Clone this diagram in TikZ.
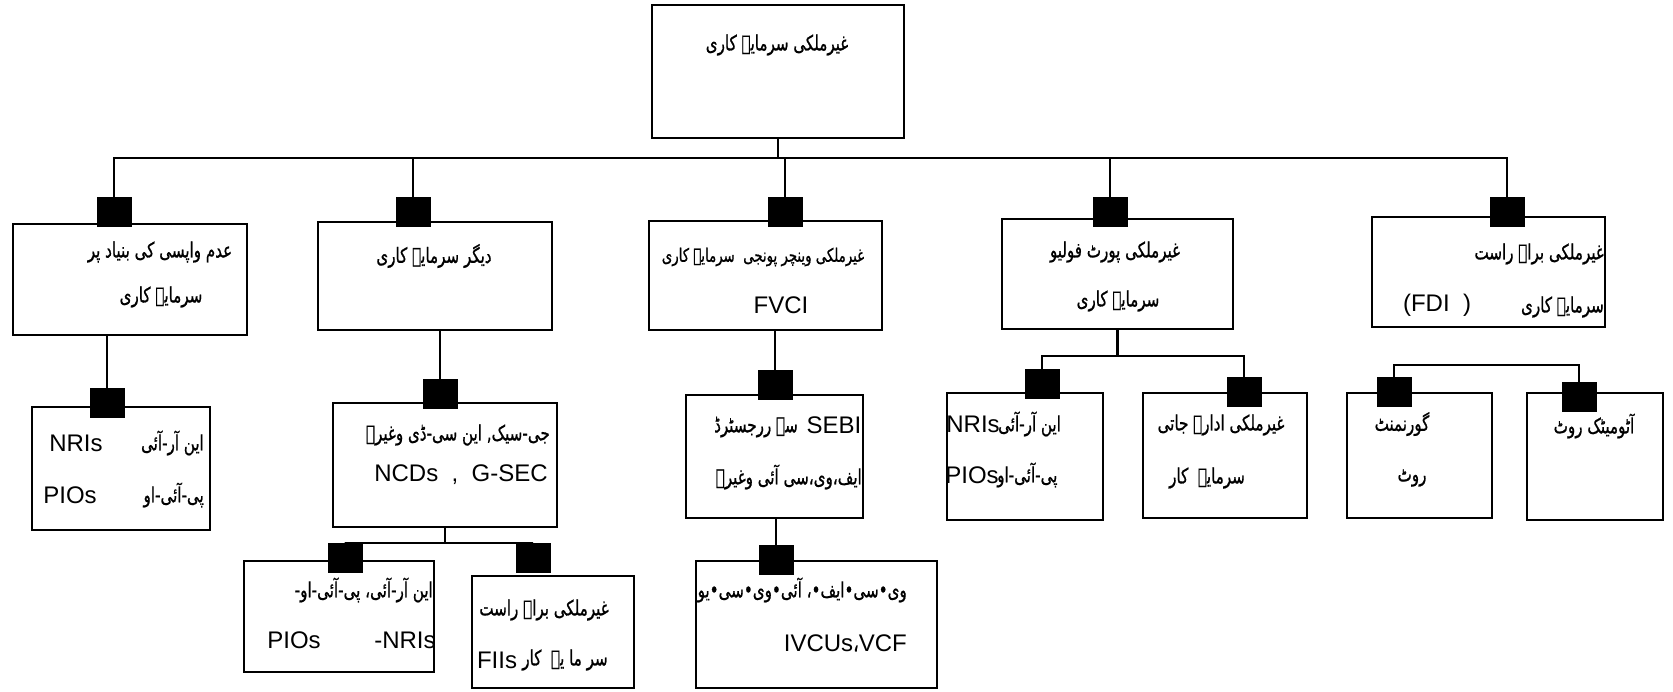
\documentclass[tikz,border=0pt]{standalone}
\usepackage{fontspec}
\setmainfont{Liberation Sans}
\newfontfamily\urdu[Script=Arabic, FakeStretch=0.72, FakeBold=0.8]{DejaVu Sans}
\TeXXeTstate=1

\tikzset{
  box/.style={draw, line width=2.8pt, inner sep=0pt},
  sq/.style={fill=black, minimum width=35, minimum height=30, inner sep=0pt},
  wire/.style={line width=2.8pt},
  ur/.style={font=\urdu\fontsize{21}{25}\selectfont, inner sep=0pt,
    execute at begin node=\beginR, execute at end node=\endR},
  lt/.style={font=\fontsize{24}{28}\selectfont, inner sep=0pt}
}

\begin{document}
\begin{tikzpicture}[x=1pt,y=-1pt]
\useasboundingbox (0,0) rectangle (1673,691);

% boxes
\node[box, minimum width=252, minimum height=133] (top) at (778,71.5) {};
\node[box, minimum width=234, minimum height=111] (A) at (130,279.5) {};
\node[box, minimum width=234, minimum height=108] (B) at (435,276) {};
\node[box, minimum width=233, minimum height=109] (C) at (765.5,275.5) {};
\node[box, minimum width=231, minimum height=110] (D) at (1117.5,274) {};
\node[box, minimum width=233, minimum height=110] (E) at (1488.5,272) {};
\node[box, minimum width=178, minimum height=123] (A2) at (121,468.5) {};
\node[box, minimum width=224, minimum height=124] (B2) at (445,465) {};
\node[box, minimum width=177, minimum height=123] (C2) at (774.5,456.5) {};
\node[box, minimum width=156, minimum height=127] (D2) at (1025,456.5) {};
\node[box, minimum width=164, minimum height=125] (D3) at (1225,455.5) {};
\node[box, minimum width=145, minimum height=125] (E2) at (1419.5,455.5) {};
\node[box, minimum width=136, minimum height=127] (E3) at (1595,456.5) {};
\node[box, minimum width=190, minimum height=111] (B3) at (339,616.5) {};
\node[box, minimum width=162, minimum height=112] (B4) at (553,632) {};
\node[box, minimum width=241, minimum height=127] (C3) at (816.5,624.5) {};

% texts
\node[ur] (t0) at (777,45) {غیرملکی سرمایہ کاری};
\node[ur] (tA1) at (160,252) {عدم واپسی کی بنیاد پر};
\node[ur] (tA2) at (161,297) {سرمایہ کاری};
\node[ur] (tB1) at (434,256) {دیگر سرمایہ کاری};
\node[ur, font=\urdu\fontsize{18.5}{22}\selectfont] (tC1) at (763,257) {غیرملکی وینچر پونجی\ \ سرمایہ کاری};
\node[lt] (tC2) at (781,305) {FVCI};
\node[ur] (tD1) at (1115,252) {غیرملکی پورٹ فولیو};
\node[ur] (tD2) at (1118,301) {سرمایہ کاری};
\node[ur, anchor=east] (tE1) at (1604,254) {غیرملکی براہ راست};
\node[ur, anchor=east] (tE2) at (1604,307) {سرمایہ کاری};
\node[lt] (tE3) at (1437,305) {(FDI\ \ )};

\node[ur, anchor=east] (tA2a) at (204,443) {این آر-آئی};
\node[lt] (nA2a) at (76,443) {NRIs};
\node[ur, anchor=east] (tA2b) at (204,495) {پی-آئی-او};
\node[lt] (nA2b) at (70,495) {PIOs};

\node[ur, anchor=east] (tB2a) at (550,435) {جی-سیک, این سی-ڈی وغیرہ};
\node[lt] (nB2b) at (461,475) {NCDs\ \ ,\ \ G-SEC};

\node[lt] (nC2a) at (834,425) {SEBI};
\node[ur] (tC2a) at (756,427) {سے ررجسٹرڈ};
\node[ur, anchor=east] (tC2b) at (862,477) {ایف،وی،سی آئی وغیرہ};

\node[lt] (nD2a) at (973,424) {NRIs};
\node[ur, anchor=west] (tD2a) at (998,424) {این آر-آئی};
\node[lt] (nD2b) at (972,475) {PIOs};
\node[ur, anchor=west] (tD2b) at (997,475) {پی-آئی-او};
\node[ur] (tD3a) at (1221,425) {غیرملکی ادارہ جاتی};
\node[ur] (tD3b) at (1207,478) {سرمایہ\ \ کار};

\node[ur] (tE2a) at (1402,424) {گورنمنٹ};
\node[ur] (tE2b) at (1412,478) {روٹ};
\node[ur] (tE3a) at (1594,426) {آٹومیٹک روٹ};

\node[ur, anchor=east] (tB3a) at (433,590) {این آر-آئی، پی-آئی-او-};
\node[lt] (nB3b) at (294,640) {PIOs};
\node[lt] (nB3c) at (405,640) {-NRIs};
\node[ur] (tB4a) at (544,610) {غیرملکی براہ راست};
\node[lt] (nB4b) at (497,660) {FIIs};
\node[ur] (tB4b) at (565,660) {سر ما یہ\ \ کار};

\node[ur, anchor=east] (tC3a) at (907,590) {وی•سی•ایف•، آئی•وی•سی•یو};
\node[lt, anchor=east] (nC3b) at (907,643) {IVCUs{\urdu ،}VCF};

% connector squares
\node[sq] (sA) at (114,212) {};
\node[sq] (sB) at (413,212) {};
\node[sq] (sC) at (785,212) {};
\node[sq] (sD) at (1110,212) {};
\node[sq] (sE) at (1507,212) {};
\node[sq] (sA2) at (107,403) {};
\node[sq] (sB2) at (440,394) {};
\node[sq] (sC2) at (775,385) {};
\node[sq] (sD2) at (1042,384) {};
\node[sq] (sD3) at (1244,392) {};
\node[sq] (sE2) at (1394,392) {};
\node[sq] (sE3) at (1579,397) {};
\node[sq] (sB3) at (345,558) {};
\node[sq] (sB4) at (533,558) {};
\node[sq] (sC3) at (776,560) {};

% lines
\coordinate (bus) at (778,158);
\coordinate (busD) at (1120,356);
\coordinate (busE) at (1480,365);
\coordinate (busB) at (441,543);
\draw[wire] (top.south) -- (bus);
\draw[wire] (sA.north) |- (bus) -| (sE.north);
\foreach \s in {sB,sC,sD} \draw[wire] (\s.north) -- (\s.north |- bus);
\draw[wire] (sA2.north) -- (sA2.north |- A.south);
\draw[wire] (sB2.north) -- (sB2.north |- B.south);
\draw[wire] (sC2.north) -- (sC2.north |- C.south);
\draw[wire] (D.south) -- (D.south |- busD);
\draw[wire] (sD2.north) |- (busD) -| (sD3.north);
\draw[wire] (sE2.north) |- (busE) -| (sE3.north);
\draw[wire] (B2.south) -- (B2.south |- busB);
\draw[wire] (sB3.north) |- (busB) -| (sB4.north);
\draw[wire] (sC3.north) -- (sC3.north |- C2.south);
\end{tikzpicture}
\end{document}
